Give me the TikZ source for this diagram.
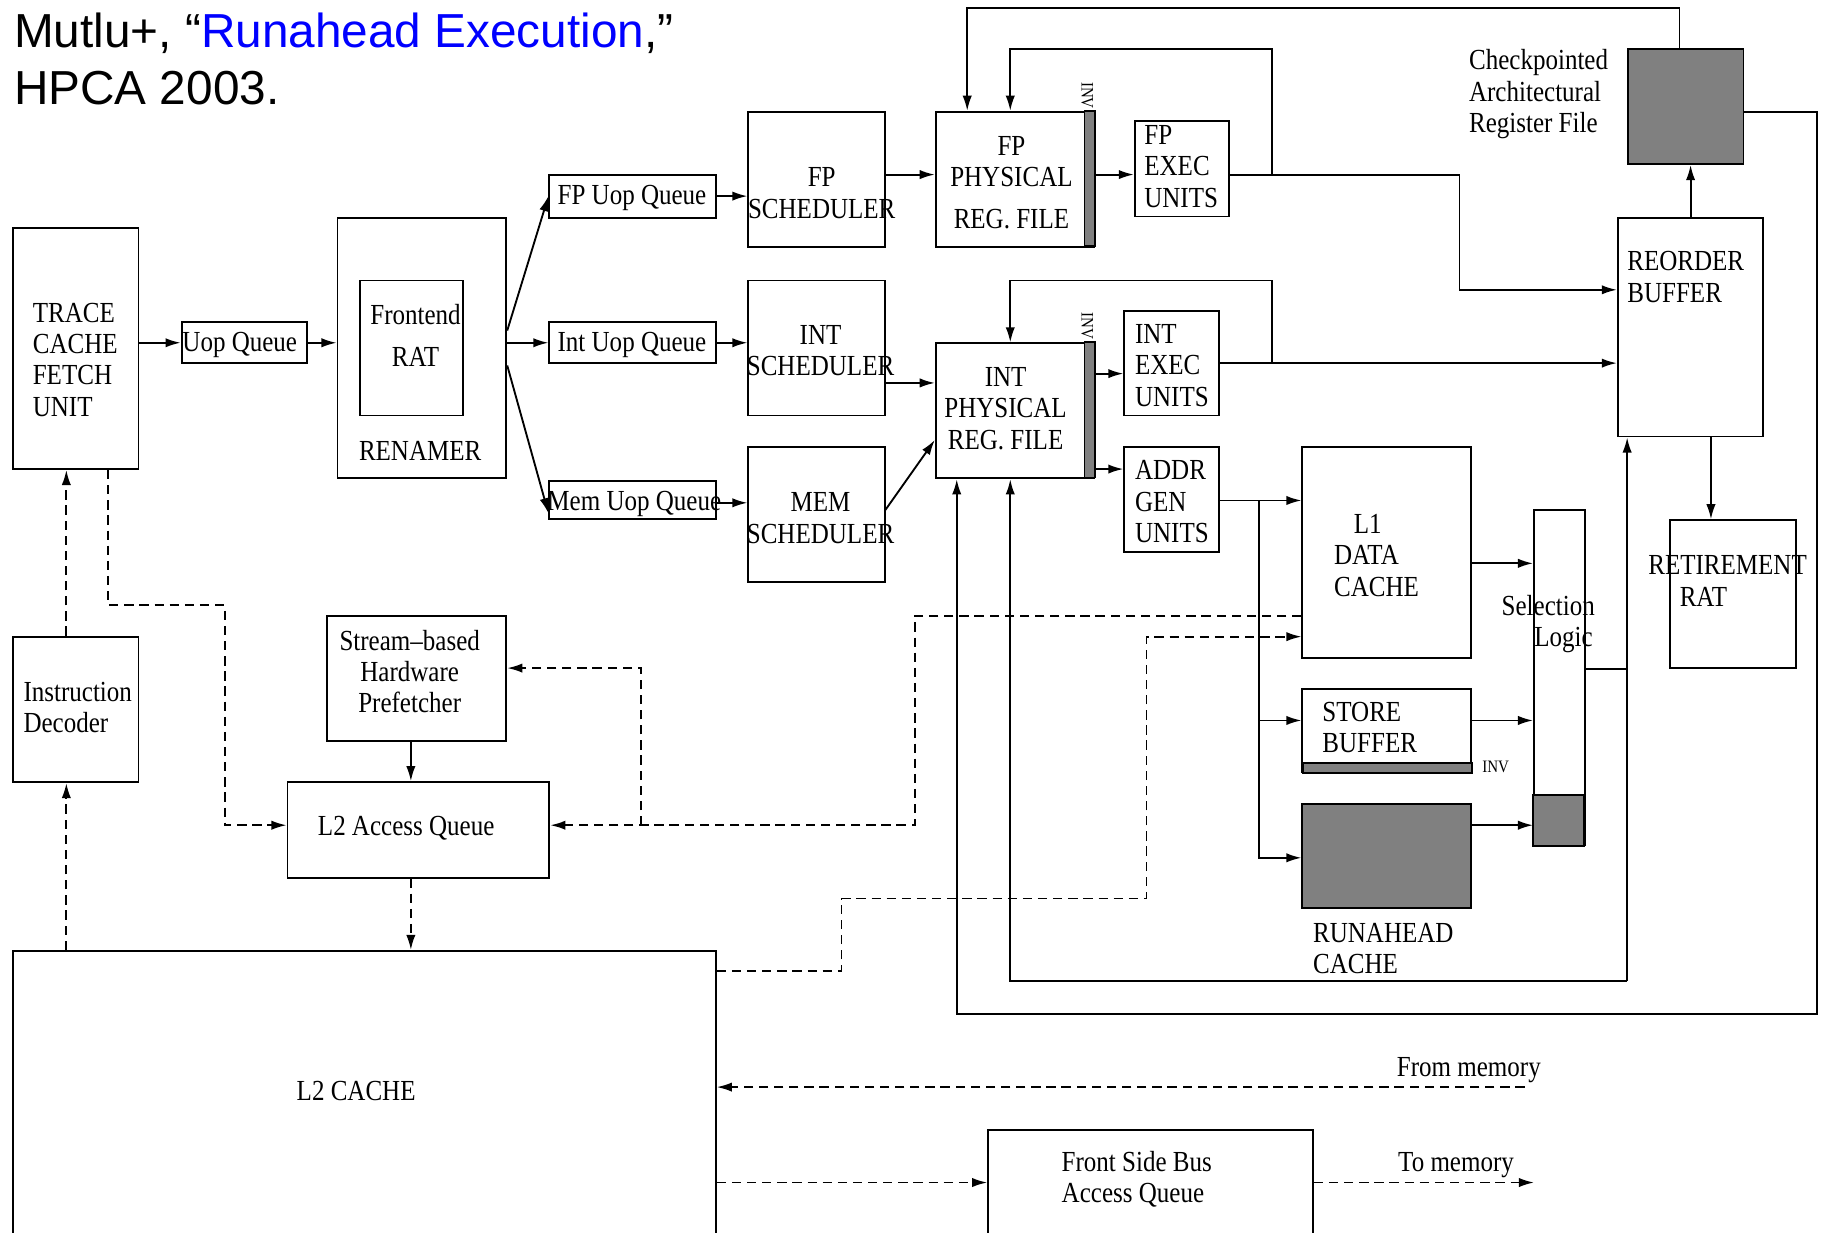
\documentclass[tikz,border=0pt]{standalone}
\usepackage{fontspec}
\setmainfont{Liberation Serif}[FakeStretch=0.86]
\newfontfamily\titlefont{Liberation Sans}
\usetikzlibrary{arrows.meta}

\tikzset{
  box/.style={draw, line width=1.6pt, inner sep=0pt, font=\fontsize{25}{27}\selectfont},
  grayfill/.style={fill={rgb,255:red,128;green,128;blue,128}},
  lbl/.style={inner sep=0pt, font=\fontsize{25}{27}\selectfont},
  invlbl/.style={inner sep=0pt, font=\fontsize{15}{16}\selectfont},
  ln/.style={line width=1.6pt},
  arr/.style={line width=1.6pt, -{Latex[length=13pt,width=8pt]}},
  darr/.style={arr, dash pattern=on 8pt off 5pt},
}

\begin{document}
\begin{tikzpicture}[x=1pt,y=1pt,yscale=-1,xscale=1]
\useasboundingbox (0,0) rectangle (1568,1059);

% Title
\node[inner sep=0pt, anchor=base west, font=\titlefont\fontsize{41}{49}\selectfont] (ttl1) at (12,41) {Mutlu+, “\textcolor{blue}{Runahead Execution},”};
\node[inner sep=0pt, anchor=base west, font=\titlefont\fontsize{41}{49}\selectfont] (ttl2) at (12,90) {HPCA 2003.};

%Shape: front end
\node[box, minimum width=108, minimum height=207] (tcfu) at (65,299.5) {};
\node[box, minimum width=108, minimum height=35] (uopq) at (210,294.5) {};
\node[box, minimum width=145, minimum height=224] (ren) at (362.5,299) {};
\node[box, minimum width=89, minimum height=116] (frat) at (353.5,299) {};
\node[box, minimum width=143, minimum height=37] (fpq) at (543.5,168.5) {};
\node[box, minimum width=143, minimum height=35] (intq) at (543.5,294.5) {};
\node[box, minimum width=143, minimum height=33] (memq) at (543.5,429.5) {};
\node[box, minimum width=117, minimum height=116] (fpsch) at (701.5,154) {};
\node[box, minimum width=117, minimum height=116] (intsch) at (701.5,299) {};
\node[box, minimum width=117, minimum height=116] (memsch) at (701.5,442) {};

%Shape: register files and units
\node[box, minimum width=136, minimum height=116] (fpprf) at (872,154) {};
\draw[ln, grayfill] (fpprf.north east) rectangle ++(-9,116);
\node[box, minimum width=81, minimum height=82] (fpex) at (1015.5,145) {};
\node[box, minimum width=136, minimum height=116] (intprf) at (872,353) {};
\draw[ln, grayfill] (intprf.north east) rectangle ++(-9,116);
\node[box, minimum width=81, minimum height=90] (intex) at (1006.5,312) {};
\node[box, minimum width=81, minimum height=90] (agu) at (1006.5,429) {};

%Shape: back end
\node[box, grayfill, minimum width=99, minimum height=99] (ckpt) at (1448.5,91.5) {};
\node[box, minimum width=125, minimum height=188] (rob) at (1452.5,281) {};
\node[box, minimum width=108, minimum height=127] (rrat) at (1489,510.5) {};
\node[box, minimum width=145, minimum height=181] (l1) at (1191.5,474.5) {};
\node[box, minimum width=145, minimum height=71] (stb) at (1191.5,627.5) {};
\draw[ln, grayfill] (stb.south east) rectangle ++(-145,-8);
\node[box, grayfill, minimum width=145, minimum height=89] (rac) at (1191.5,735.5) {};
\node[box, minimum width=44, minimum height=288] (sel) at (1340,582) {};
\draw[ln, grayfill] (sel.south west) rectangle ++(44,-44);

%Shape: memory side
\node[box, minimum width=108, minimum height=125] (idec) at (65,609.5) {};
\node[box, minimum width=154, minimum height=108] (pref) at (358,583) {};
\node[box, minimum width=225, minimum height=82] (l2q) at (359.5,713) {};
\node[box, minimum width=604, minimum height=263] (l2) at (313,948.5) {};
\node[box, minimum width=279, minimum height=109] (fsb) at (988.5,1025.5) {};

% Text Node
\node[lbl, anchor=west, align=left] (tcfutxt) at (28,309) {TRACE\\CACHE\\FETCH\\UNIT};
\node[lbl] (uopqtxt) at (206,296) {Uop Queue};
\node[lbl, align=center] (fratxt) at (357,288) {Frontend\\[9pt]RAT};
\node[lbl] (rentxt) at (361,387) {RENAMER};
\node[lbl] (fpqtxt) at (543,170) {FP Uop Queue};
\node[lbl] (intqtxt) at (543,296) {Int Uop Queue};
\node[lbl] (memqtxt) at (545,433) {Mem Uop Queue};
\node[lbl, align=center] (fpschtxt) at (706,166) {FP\\SCHEDULER};
\node[lbl, align=center] (intschtxt) at (705,301) {INT\\SCHEDULER};
\node[lbl, align=center] (memschtxt) at (705,445) {MEM\\SCHEDULER};
\node[lbl, align=center] (fpprftxt) at (869,157) {FP\\PHYSICAL\\[9pt]REG. FILE};
\node[invlbl, rotate=-90] (fpinv) at (934,82) {INV};
\node[lbl, anchor=west, align=left] (fpextxt) at (983,143) {FP\\EXEC\\UNITS};
\node[lbl, align=center] (intprftxt) at (864,351) {INT\\PHYSICAL\\REG. FILE};
\node[invlbl, rotate=-90] (intinv) at (934,280) {INV};
\node[lbl, anchor=west, align=left] (intextxt) at (975,314) {INT\\EXEC\\UNITS};
\node[lbl, anchor=west, align=left] (agutxt) at (975,431) {ADDR\\GEN\\UNITS};
\node[lbl, anchor=west, align=left] (ckpttxt) at (1262,81) {Checkpointed\\Architectural\\Register File};
\node[lbl, anchor=west, align=left] (robtxt) at (1398,238) {REORDER\\BUFFER};
\node[lbl, anchor=west, align=left] (rrattxt) at (1416,499) {RETIREMENT\\\hspace*{27pt}RAT};
\node[lbl, anchor=west, align=left] (l1txt) at (1146,477) {\hspace*{17pt}L1\\DATA\\CACHE};
\node[lbl, anchor=west, align=left] (stbtxt) at (1136,625) {STORE\\BUFFER};
\node[invlbl] (stbinv) at (1285,659) {INV};
\node[lbl, anchor=west, align=left] (ractxt) at (1128,815) {RUNAHEAD\\CACHE};
\node[lbl, anchor=west, align=left] (seltxt) at (1290,536) {Selection\\\hspace*{28pt}Logic};
\node[lbl, anchor=west, align=left] (idectxt) at (20,608) {Instruction\\Decoder};
\node[lbl, align=center] (preftxt) at (352,577) {Stream--based\\Hardware\\Prefetcher};
\node[lbl] (l2qtxt) at (349,712) {L2 Access Queue};
\node[lbl] (l2txt) at (306,937) {L2 CACHE};
\node[lbl, anchor=west, align=left] (fsbtxt) at (912,1013) {Front Side Bus\\Access Queue};
\node[lbl] (frommemtxt) at (1262,919) {From memory};
\node[lbl] (tomemtxt) at (1251,1001) {To memory};

%Straight Lines: pipeline
\draw[arr] (tcfu.east |- uopq.west) -- (uopq.west);
\draw[arr] (uopq.east) -- (uopq.east -| ren.west);
\draw[arr] (ren.east |- 0,284) -- (fpq.west);
\draw[arr] (ren.east |- intq.west) -- (intq.west);
\draw[arr] (ren.east |- 0,314) -- (memq.west |- 0,441);
\draw[arr] (fpq.east) -- (fpq.east -| fpsch.west);
\draw[arr] (intq.east) -- (intq.east -| intsch.west);
\draw[arr] (memq.east |- 0,432) -- (memsch.west |- 0,432);
\draw[arr] (fpsch.east |- 0,150) -- (fpprf.west |- 0,150);
\draw[arr] (intsch.east |- 0,329) -- (intprf.west |- 0,329);
\draw[arr] (memsch.east |- 0,438) -- (intprf.west |- 0,378);
\draw[arr] (fpprf.east |- 0,150) -- (fpex.west |- 0,150);
\draw[arr] (intprf.east |- 0,321) -- (intex.west |- 0,321);
\draw[arr] (intprf.east |- 0,403) -- (agu.west |- 0,403);

%Straight Lines: results and commit
\draw[arr] (fpex.east |- 0,150) -| (1254,249) -- (rob.west |- 0,249);
\draw[arr] (1093,150) -- (1093,42) -- (868,42) -- (868,42 |- fpprf.north);
\draw[arr] (ckpt.north -| 1443,0) -- (1443,7) -- (831,7) -- (831,7 |- fpprf.north);
\draw[arr] (rob.north) -- (rob.north |- ckpt.south);
\draw[arr] (ckpt.east |- 0,96) -- (1561,96) -- (1561,871) -- (822,871) -- (822,871 |- intprf.south);
\draw[arr] (intex.east) -- (intex.east -| rob.west);
\draw[arr] (1093,312) -- (1093,241) -- (868,241) -- (868,241 |- intprf.north);
\draw[arr] (rob.south -| 1470,0) -- (rrat.north -| 1470,0);
\draw[arr] (agu.east |- 0,430) -- (l1.west |- 0,430);
\draw[arr] (1082,430) -- (1082,737) -- (rac.west |- 0,737);
\draw[arr] (1082,619) -- (stb.west |- 0,619);
\draw[arr] (l1.east |- 0,484) -- (sel.west |- 0,484);
\draw[arr] (stb.east |- 0,619) -- (sel.west |- 0,619);
\draw[arr] (rac.east |- 0,709) -- (sel.west |- 0,709);
\draw[ln] (sel.east |- 0,575) -- (1398,575);
\draw[arr] (1398,843) -- (1398,843 |- rob.south);
\draw[arr] (1398,843) -- (868,843) -- (868,843 |- intprf.south);

%Dashed Lines: memory traffic
\draw[darr] (idec.north -| 57,0) -- (tcfu.south -| 57,0);
\draw[darr] (l2.north -| 57,0) -- (idec.south -| 57,0);
\draw[darr] (tcfu.south -| 93,0) -- (93,520) -- (193,520) -- (193,709) -- (l2q.west |- 0,709);
\draw[arr] (pref.south -| 353,0) -- (l2q.north -| 353,0);
\draw[darr] (l2q.south -| 353,0) -- (l2.north -| 353,0);
\draw[darr] (l1.west |- 0,529) -- (786,529) -- (786,709) -- (l2q.east |- 0,709);
\draw[darr] (551,709) -- (551,574) -- (pref.east |- 0,574);
\draw[darr] (l2.east |- 0,834) -- (723,834) -- (723,772) -- (985,772) -- (985,547) -- (l1.west |- 0,547);
\coordinate (frommem) at (1310,934);
\draw[darr] (frommem) -- (l2.east |- frommem);
\draw[darr] (l2.east |- 0,1016) -- (fsb.west |- 0,1016);
\coordinate (tomem) at (1318,1016);
\draw[darr] (fsb.east |- tomem) -- (tomem);

\end{tikzpicture}
\end{document}
